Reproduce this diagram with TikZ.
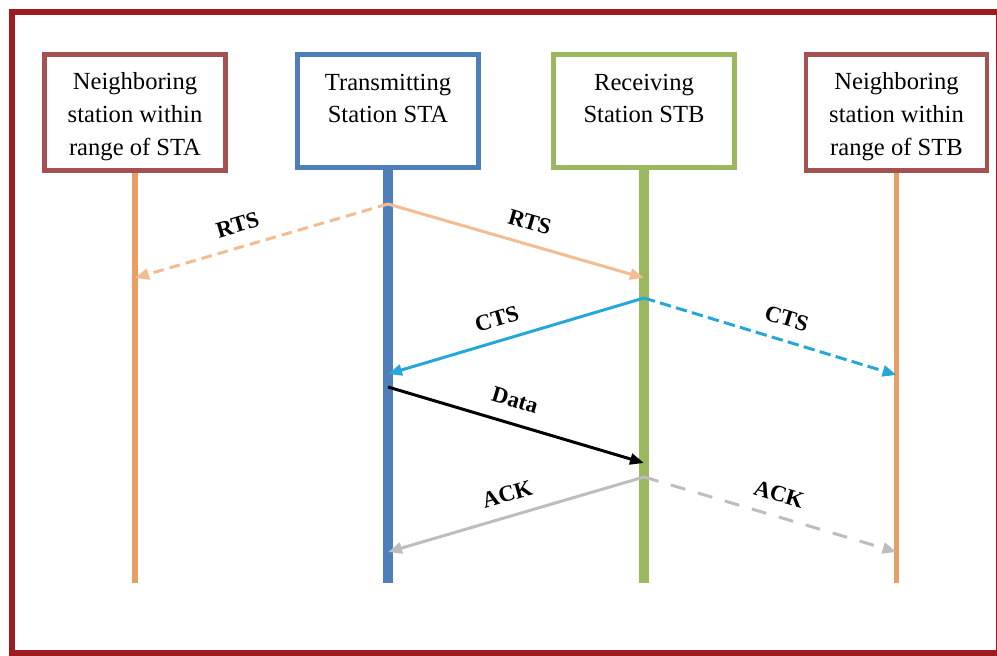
\documentclass[tikz,border=0pt]{standalone}
\usepackage{fontspec}
\setmainfont{Liberation Serif}
\usetikzlibrary{arrows.meta, calc}
\definecolor{dkred}{HTML}{9E1B20}
\definecolor{nbred}{HTML}{A55152}
\definecolor{stablue}{HTML}{4F7FBA}
\definecolor{stbgreen}{HTML}{9BB85E}
\definecolor{lforange}{HTML}{E6A064}
\definecolor{rtspeach}{HTML}{F4BC92}
\definecolor{ctscyan}{HTML}{25A7DA}
\definecolor{ackgray}{HTML}{BDBDBD}

\begin{document}
\begin{tikzpicture}[
  >={Triangle[length=2.8mm, width=2.2mm]},
  station/.style={draw, line width=2.8pt, fill=white, minimum width=3.62cm, minimum height=2.26cm, align=center, inner sep=4pt, font=\fontsize{14}{18.7}\selectfont},
  msg/.style={line width=1.7pt, ->},
  lbl/.style={sloped, above=4pt, font=\fontsize{13}{15}\selectfont\bfseries, text=black},
]

% Background and frame
\useasboundingbox (0,0) rectangle (19.94,13.1);
\fill[white] (0,0) rectangle (19.94,13.1);
\draw[dkred, line width=3.2pt] (0.24,0.04) rectangle (19.98,12.86);

% Stations (text sits in the top part of each box)
\node[station, draw=nbred, minimum height=2.32cm] (nbA) at (2.70,10.85) {\rule{0pt}{14.5pt}Neighboring\\station within\\range of STA};
\node[station, draw=stablue] (sta) at (7.76,10.88) {Transmitting\\Station STA\\[-10pt]\strut};
\node[station, draw=stbgreen] (stb) at (12.88,10.88) {Receiving\\Station STB\\[-10pt]\strut};
\node[station, draw=nbred, minimum height=2.32cm] (nbB) at (17.93,10.85) {\rule{0pt}{14.5pt}Neighboring\\station within\\range of STB};

% Lifeline ends
\coordinate (nbA-end) at (nbA.south |- 0,1.44);
\coordinate (sta-end) at (sta.south |- 0,1.44);
\coordinate (stb-end) at (stb.south |- 0,1.44);
\coordinate (nbB-end) at (nbB.south |- 0,1.44);

% Lifelines
\draw[lforange, line width=3.4pt] (nbA.south) -- (nbA-end);
\draw[stablue, line width=5.7pt] (sta.south) -- (sta-end);
\draw[stbgreen, line width=5.7pt] (stb.south) -- (stb-end);
\draw[lforange, line width=3.4pt] (nbB.south) -- (nbB-end);

% Message points on the lifelines
\coordinate (sta-rts) at (sta.south |- 0,9.02);
\coordinate (nbA-rts) at (nbA.south |- 0,7.54);
\coordinate (stb-rts) at (stb.south |- 0,7.54);
\coordinate (stb-cts) at (stb.south |- 0,7.14);
\coordinate (sta-cts) at (sta.south |- 0,5.62);
\coordinate (nbB-cts) at (nbB.south |- 0,5.60);
\coordinate (sta-data) at (sta.south |- 0,5.36);
\coordinate (stb-data) at (stb.south |- 0,3.84);
\coordinate (stb-ack) at (stb.south |- 0,3.56);
\coordinate (sta-ack) at (sta.south |- 0,2.06);
\coordinate (nbB-ack) at (nbB.south |- 0,2.06);

% RTS
\draw[msg, rtspeach, dash pattern=on 6pt off 3.5pt] (sta-rts) -- (nbA-rts) node[lbl, pos=0.57] {RTS};
\draw[msg, rtspeach] (sta-rts) -- (stb-rts) node[lbl, pos=0.53] {RTS};

% CTS
\draw[msg, ctscyan] (stb-cts) -- (sta-cts) node[lbl, pos=0.55] {CTS};
\draw[msg, ctscyan, dash pattern=on 6.5pt off 3pt] (stb-cts) -- (nbB-cts) node[lbl, pos=0.54] {CTS};

% Data
\draw[msg, black] (sta-data) -- (stb-data) node[lbl, pos=0.47, above=1pt] {Data};

% ACK
\draw[msg, ackgray] (stb-ack) -- (sta-ack) node[lbl, pos=0.51] {ACK};
\draw[msg, ackgray, dash pattern=on 8.5pt off 7.5pt] (stb-ack) -- (nbB-ack) node[lbl, pos=0.51] {ACK};

\end{tikzpicture}
\end{document}
